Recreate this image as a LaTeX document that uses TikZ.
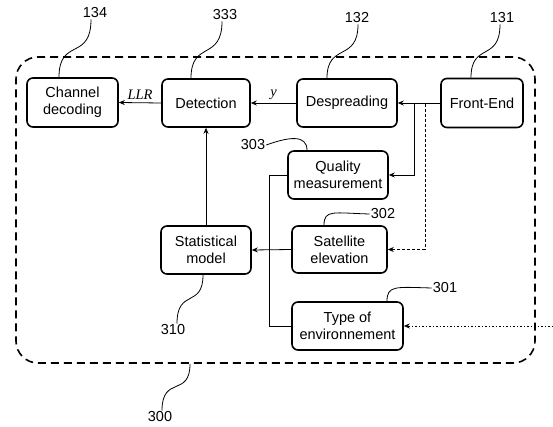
\documentclass[tikz,border=0pt]{standalone}
\usepackage{fontspec}
\setmainfont{Liberation Sans}
\newfontfamily\seriffont{Liberation Serif}
\usetikzlibrary{arrows.meta,calc}
\begin{document}
\begin{tikzpicture}[x=1pt,y=-1pt,
  box/.style={draw, line width=1.6pt, rounded corners=6pt, align=center,
    font=\fontsize{14.5}{17}\selectfont, inner sep=0pt},
  conn/.style={line width=0.8pt},
  arr/.style={conn,-{Stealth[length=6pt,width=5pt]}},
  lbl/.style={font=\fontsize{14.5}{17}\selectfont, inner sep=1pt},
  lead/.style={line width=0.8pt},
  itl/.style={font=\seriffont\itshape\fontsize{14.5}{16}\selectfont, inner sep=3pt}]
\useasboundingbox (0,0) rectangle (553,427);

% outer system box
\node[draw, line width=1.6pt, dash pattern=on 8pt off 5pt, rounded corners=22pt,
  minimum width=519pt, minimum height=306pt, inner sep=0pt] (sys) at (275.5,210) {};

% blocks
\node[box, minimum width=91pt, minimum height=49pt] (chan) at (72.5,102.5) {Channel\\decoding};
\node[box, minimum width=88pt, minimum height=48pt] (det) at (206,103) {Detection};
\node[box, minimum width=100pt, minimum height=48pt] (desp) at (347,103) {Despreading};
\node[box, minimum width=82pt, minimum height=49pt] (fe) at (482,103) {Front-End};
\node[box, minimum width=100pt, minimum height=48pt] (qual) at (338,175) {Quality\\measurement};
\node[box, minimum width=95pt, minimum height=47pt] (sat) at (339.5,249.5) {Satellite\\elevation};
\node[box, minimum width=90pt, minimum height=48pt] (stat) at (206,250) {Statistical\\model};
\node[box, minimum width=111pt, minimum height=48pt] (type) at (347.5,326) {Type of\\environnement};

% connectors
\coordinate (j1) at (414,103);
\coordinate (j2) at (425,104.5);
\coordinate (ext) at (553,326);
\draw[arr] (fe.west) -- (desp.east);
\draw[arr] (j1) |- (qual.east);
\draw[conn, dash pattern=on 3pt off 2pt, -{Stealth[length=6pt,width=5pt]}] (j2) |- (sat.east);
\draw[arr] (desp.west) -- node[itl, above] {y} (det.east);
\draw[arr] (det.west) -- node[itl, above] {LLR} (chan.east);
\draw[arr] (stat.north) -- (det.south);
\draw[arr] (sat.west) -- (stat.east);
\draw[conn] (qual.west) -- ++(-18,0) |- (type.west);
\draw[conn, dash pattern=on 1.5pt off 2pt, -{Stealth[length=6pt,width=5pt]}] (ext) -- (type.east);

% reference labels
\node[lbl] (n134) at (95,13) {134};
\node[lbl] (n333) at (225,15) {333};
\node[lbl] (n132) at (357,18) {132};
\node[lbl] (n131) at (502,18) {131};
\node[lbl] (n303) at (253,145) {303};
\node[lbl] (n302) at (383,214) {302};
\node[lbl] (n301) at (445,288) {301};
\node[lbl] (n310) at (173,330) {310};
\node[lbl] (n300) at (160,417) {300};

\draw[lead] ([xshift=-4pt]n134.south) .. controls +(0,42) and +(0,-40) .. ([xshift=-13.5pt]chan.north);
\draw[lead] ([xshift=-3pt]n333.south) .. controls +(0,40) and +(0,-38) .. ([xshift=-15pt]det.north);
\draw[lead] ([xshift=1pt]n132.south) .. controls +(0,38) and +(0,-36) .. ([xshift=-20pt]desp.north);
\draw[lead] ([xshift=-2pt]n131.south) .. controls +(0,38) and +(0,-36) .. ([xshift=-11pt]fe.north);
\draw[lead] (n303.east) .. controls +(22,-8) and +(0,-16) .. ([xshift=-31pt]qual.north);
\draw[lead] (n302.west) .. controls +(-36,-1) and +(0,-16) .. ([xshift=-15.5pt]sat.north);
\draw[lead] (n301.west) .. controls +(-36,-1) and +(0,-16) .. ([xshift=39.5pt]type.north);
\draw[lead] ([xshift=4pt]n310.north) .. controls +(0,-36) and +(0,34) .. ([xshift=-3pt]stat.south);
\draw[lead] ([xshift=2pt]n300.north) .. controls +(0,-36) and +(0,34) .. ([xshift=-85.5pt]sys.south);
\end{tikzpicture}
\end{document}
